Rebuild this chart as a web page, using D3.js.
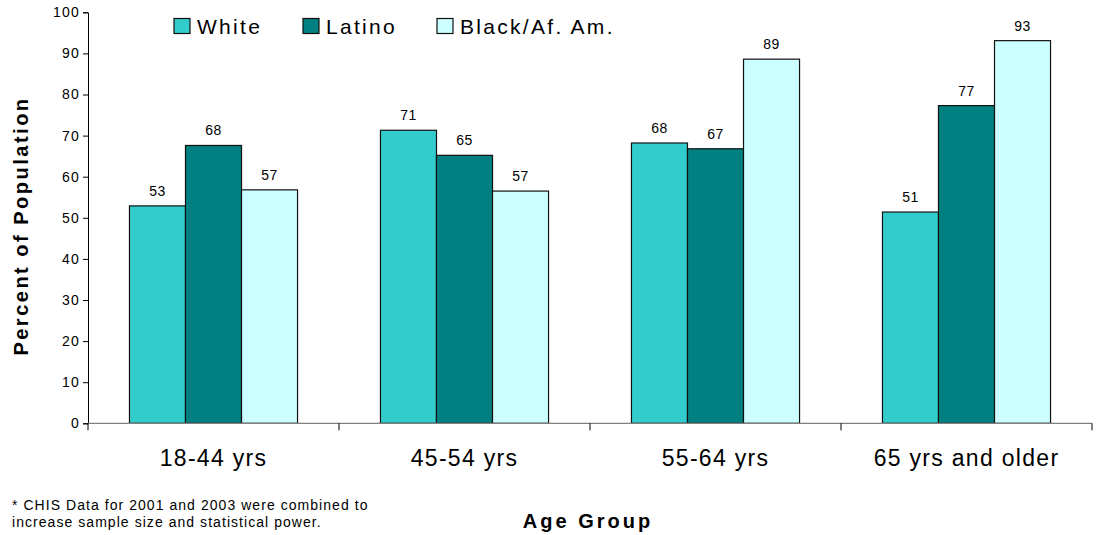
<!DOCTYPE html>
<html>
<head>
<meta charset="utf-8">
<script src="https://cdn.jsdelivr.net/npm/d3@7"></script>
<style>
  html, body { margin: 0; padding: 0; background: #fff; }
  svg text { font-family: "Liberation Sans", Arial, Helvetica, sans-serif; fill: #000; }
</style>
</head>
<body>
<svg id="chart" width="1102" height="535"></svg>
<script>
// Age groups along the x axis
const categories = ["18-44 yrs", "45-54 yrs", "55-64 yrs", "65 yrs and older"];
// Ethnic groups (one bar each per age group)
const seriesNames = ["White", "Latino", "Black/Af. Am."];
const seriesColors = ["#33CCCC", "#008080", "#CCFFFF"];
// Percent of population, per series, in category order
const whiteValues  = [52.9, 71.3, 68.2, 51.4];
const latinoValues = [67.6, 65.2, 66.8, 77.3];
const blackValues  = [56.8, 56.5, 88.6, 93.1];
// Value axis ticks
const yTicks = [0, 10, 20, 30, 40, 50, 60, 70, 80, 90, 100];

const seriesValues = [whiteValues, latinoValues, blackValues];

const svg = d3.select("#chart");
const plot = { left: 88, right: 1092, top: 12.3, bottom: 423.3 };

const y = d3.scaleLinear().domain([0, 100]).range([plot.bottom, plot.top]);
const x0 = d3.scaleBand().domain(categories).range([plot.left, plot.right]).padding(0);
const x1 = d3.scaleBand().domain(seriesNames).range([0, x0.bandwidth()]).paddingInner(0).paddingOuter(0.74);
const color = d3.scaleOrdinal().domain(seriesNames).range(seriesColors);

// Y axis
const yAxis = svg.append("g")
  .attr("transform", `translate(${plot.left},0)`)
  .call(d3.axisLeft(y).tickValues(yTicks).tickSize(5).tickPadding(3).tickFormat(d3.format("d")));
yAxis.select(".domain").attr("stroke", "#000").attr("stroke-width", 1);
yAxis.selectAll(".tick line").attr("stroke", "#000");
yAxis.selectAll(".tick text")
  .style("font-size", "14px").style("letter-spacing", "1.2px").attr("fill", "#000");

// Bars
const groups = svg.append("g").selectAll("g")
  .data(categories)
  .join("g")
  .attr("transform", d => `translate(${x0(d)},0)`);

groups.selectAll("rect")
  .data((c, i) => seriesNames.map((s, k) => ({ s, v: seriesValues[k][i] })))
  .join("rect")
  .attr("x", d => x1(d.s))
  .attr("y", d => y(d.v))
  .attr("width", x1.bandwidth())
  .attr("height", d => y(0) - y(d.v))
  .attr("fill", d => color(d.s))
  .attr("stroke", "#111")
  .attr("stroke-width", 1.2);

groups.selectAll("text.val")
  .data((c, i) => seriesNames.map((s, k) => ({ s, v: seriesValues[k][i] })))
  .join("text")
  .attr("class", "val")
  .attr("x", d => x1(d.s) + x1.bandwidth() / 2)
  .attr("y", d => y(d.v) - 10)
  .attr("text-anchor", "middle")
  .style("font-size", "14px")
  .style("letter-spacing", "0.5px")
  .text(d => Math.round(d.v));

// X axis (ticks sit on the category boundaries)
const xAxisG = svg.append("g").attr("transform", `translate(0,${plot.bottom})`);
xAxisG.append("line")
  .attr("x1", plot.left).attr("x2", plot.right)
  .attr("stroke", "#808080").attr("stroke-width", 1.2);
const bounds = categories.map(c => x0(c)).concat([x0(categories[categories.length - 1]) + x0.bandwidth()]);
xAxisG.selectAll("line.tk")
  .data(bounds)
  .join("line")
  .attr("class", "tk")
  .attr("x1", d => d).attr("x2", d => d)
  .attr("y1", 0).attr("y2", 7)
  .attr("stroke", "#000");
xAxisG.selectAll("text.cat")
  .data(categories)
  .join("text")
  .attr("class", "cat")
  .attr("x", d => x0(d) + x0.bandwidth() / 2)
  .attr("y", 42.5)
  .attr("text-anchor", "middle")
  .style("font-size", "23px")
  .style("letter-spacing", "1.3px")
  .text(d => d);

// Axis titles
svg.append("text")
  .attr("transform", `translate(28,226) rotate(-90)`)
  .attr("text-anchor", "middle")
  .style("font-size", "20px").style("font-weight", "bold").style("letter-spacing", "2.5px")
  .text("Percent of Population");

svg.append("text")
  .attr("x", 588).attr("y", 528)
  .attr("text-anchor", "middle")
  .style("font-size", "20px").style("font-weight", "bold").style("letter-spacing", "3px")
  .text("Age Group");

// Footnote
const note = svg.append("text")
  .style("font-size", "14px").style("letter-spacing", "1.05px");
note.append("tspan").attr("x", 12).attr("y", 509.5).text("* CHIS Data for 2001 and 2003 were combined to");
note.append("tspan").attr("x", 12).attr("y", 526.5).text("increase sample size and statistical power.");

// Legend
const legendX = [174, 303, 437];
const legend = svg.append("g").selectAll("g")
  .data(seriesNames)
  .join("g")
  .attr("transform", (d, i) => `translate(${legendX[i]},18.5)`);
legend.append("rect")
  .attr("width", 16).attr("height", 15)
  .attr("fill", d => color(d))
  .attr("stroke", "#111").attr("stroke-width", 1.2);
legend.append("text")
  .attr("x", 23).attr("y", 15)
  .style("font-size", "21px").style("letter-spacing", "2.3px")
  .text(d => d);
</script>
</body>
</html>
